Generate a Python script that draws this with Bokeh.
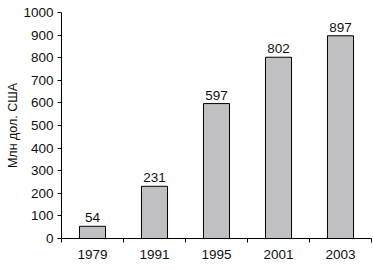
from bokeh.plotting import figure
from bokeh.models import FixedTicker, ColumnDataSource, Range1d
from bokeh.core.properties import value
from bokeh.embed import file_html
from bokeh.resources import INLINE

years = ["1979", "1991", "1995", "2001", "2003"]
values = [54, 231, 597, 802, 897]
y_ticks = [0, 100, 200, 300, 400, 500, 600, 700, 800, 900, 1000]

FONT = "Liberation Sans"
FS = "13.5px"

xs = [i + 0.5 for i in range(len(years))]
src = ColumnDataSource(dict(x=xs, top=values, label=[str(v) for v in values]))

p = figure(width=373, height=270, output_backend="svg", toolbar_location=None,
           x_range=Range1d(0, len(years)), y_range=Range1d(0, 1000),
           min_border_left=61, min_border_right=2, min_border_top=12, min_border_bottom=32)
p.outline_line_color = None
p.xgrid.grid_line_color = None
p.ygrid.grid_line_color = None
p.background_fill_color = "white"
p.border_fill_color = "white"

p.vbar(x="x", top="top", width=0.42, bottom=0, source=src,
       fill_color="#c0c0c2", line_color="black", line_width=1)
p.text(x="x", y="top", text="label", source=src, text_align="center",
       text_baseline="bottom", y_offset=-4, text_font=value(FONT),
       text_font_size=FS, text_color="#111111")

# x axis
p.xaxis.ticker = FixedTicker(ticks=xs, minor_ticks=list(range(len(years) + 1)))
p.xaxis.major_label_overrides = {x: y for x, y in zip(xs, years)}
p.xaxis.major_tick_out = 0
p.xaxis.major_tick_in = 0
p.xaxis.minor_tick_out = 4
p.xaxis.minor_tick_in = 0
p.xaxis.minor_tick_line_color = "black"
p.xaxis.axis_line_color = "black"
p.xaxis.major_label_text_font = FONT
p.xaxis.major_label_text_font_size = FS
p.xaxis.major_label_text_color = "#111111"
p.xaxis.major_label_standoff = 7

# y axis
p.yaxis.ticker = FixedTicker(ticks=y_ticks)
p.yaxis.major_tick_out = 4
p.yaxis.major_tick_in = 0
p.yaxis.minor_tick_line_color = None
p.yaxis.axis_line_color = "black"
p.yaxis.major_tick_line_color = "black"
p.yaxis.major_label_text_font = FONT
p.yaxis.major_label_text_font_size = FS
p.yaxis.major_label_text_color = "#111111"
p.yaxis.major_label_standoff = 4
p.yaxis.axis_label = "Млн дол. США"
p.yaxis.axis_label_text_font = FONT
p.yaxis.axis_label_text_font_size = "12.5px"
p.yaxis.axis_label_text_font_style = "normal"
p.yaxis.axis_label_text_color = "#111111"
p.yaxis.axis_label_standoff = 0

open("out.html", "w").write(file_html(p, INLINE))
